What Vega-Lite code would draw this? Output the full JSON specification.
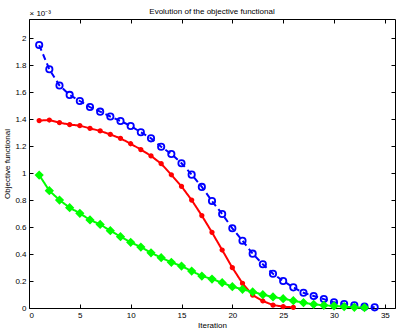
{
  "$schema": "https://vega.github.io/schema/vega-lite/v6.json",
  "width": 366,
  "height": 289,
  "autosize": {"type": "none"},
  "padding": {"left": 29, "top": 19, "right": 4, "bottom": 24},
  "background": "white",
  "title": {"text": "Evolution of the objective functional", "fontSize": 8, "fontWeight": "normal", "font": "Liberation Sans", "color": "black", "offset": -7},
  "config": {
    "view": {"stroke": null},
    "axis": {
      "domainColor": "black", "tickColor": "black", "tickSize": -4, "grid": false,
      "labelFont": "Liberation Sans", "labelFontSize": 8, "labelColor": "black",
      "titleFont": "Liberation Sans", "titleFontSize": 8, "titleFontWeight": "normal", "titleColor": "black",
      "labelPadding": 7
    }
  },
  "data": {"values": [
    {"series": "A", "iter": 1, "objective": 1.95}, {"series": "A", "iter": 2, "objective": 1.77}, {"series": "A", "iter": 3, "objective": 1.65}, {"series": "A", "iter": 4, "objective": 1.58}, {"series": "A", "iter": 5, "objective": 1.535}, {"series": "A", "iter": 6, "objective": 1.49}, {"series": "A", "iter": 7, "objective": 1.456}, {"series": "A", "iter": 8, "objective": 1.42}, {"series": "A", "iter": 9, "objective": 1.387}, {"series": "A", "iter": 10, "objective": 1.35}, {"series": "A", "iter": 11, "objective": 1.303}, {"series": "A", "iter": 12, "objective": 1.258}, {"series": "A", "iter": 13, "objective": 1.196}, {"series": "A", "iter": 14, "objective": 1.142}, {"series": "A", "iter": 15, "objective": 1.073}, {"series": "A", "iter": 16, "objective": 0.989}, {"series": "A", "iter": 17, "objective": 0.898}, {"series": "A", "iter": 18, "objective": 0.793}, {"series": "A", "iter": 19, "objective": 0.697}, {"series": "A", "iter": 20, "objective": 0.591}, {"series": "A", "iter": 21, "objective": 0.499}, {"series": "A", "iter": 22, "objective": 0.403}, {"series": "A", "iter": 23, "objective": 0.324}, {"series": "A", "iter": 24, "objective": 0.254}, {"series": "A", "iter": 25, "objective": 0.2}, {"series": "A", "iter": 26, "objective": 0.153}, {"series": "A", "iter": 27, "objective": 0.113}, {"series": "A", "iter": 28, "objective": 0.089}, {"series": "A", "iter": 29, "objective": 0.066}, {"series": "A", "iter": 30, "objective": 0.042}, {"series": "A", "iter": 31, "objective": 0.03}, {"series": "A", "iter": 32, "objective": 0.02}, {"series": "A", "iter": 33, "objective": 0.01}, {"series": "A", "iter": 34, "objective": 0.005},
    {"series": "B", "iter": 1, "objective": 1.39}, {"series": "B", "iter": 2, "objective": 1.394}, {"series": "B", "iter": 3, "objective": 1.374}, {"series": "B", "iter": 4, "objective": 1.36}, {"series": "B", "iter": 5, "objective": 1.352}, {"series": "B", "iter": 6, "objective": 1.332}, {"series": "B", "iter": 7, "objective": 1.313}, {"series": "B", "iter": 8, "objective": 1.287}, {"series": "B", "iter": 9, "objective": 1.258}, {"series": "B", "iter": 10, "objective": 1.218}, {"series": "B", "iter": 11, "objective": 1.175}, {"series": "B", "iter": 12, "objective": 1.128}, {"series": "B", "iter": 13, "objective": 1.07}, {"series": "B", "iter": 14, "objective": 0.988}, {"series": "B", "iter": 15, "objective": 0.902}, {"series": "B", "iter": 16, "objective": 0.8}, {"series": "B", "iter": 17, "objective": 0.685}, {"series": "B", "iter": 18, "objective": 0.561}, {"series": "B", "iter": 19, "objective": 0.43}, {"series": "B", "iter": 20, "objective": 0.299}, {"series": "B", "iter": 21, "objective": 0.183}, {"series": "B", "iter": 22, "objective": 0.096}, {"series": "B", "iter": 23, "objective": 0.052}, {"series": "B", "iter": 24, "objective": 0.022}, {"series": "B", "iter": 25, "objective": 0.01}, {"series": "B", "iter": 26, "objective": 0.005},
    {"series": "C", "iter": 1, "objective": 0.986}, {"series": "C", "iter": 2, "objective": 0.87}, {"series": "C", "iter": 3, "objective": 0.8}, {"series": "C", "iter": 4, "objective": 0.744}, {"series": "C", "iter": 5, "objective": 0.702}, {"series": "C", "iter": 6, "objective": 0.653}, {"series": "C", "iter": 7, "objective": 0.62}, {"series": "C", "iter": 8, "objective": 0.573}, {"series": "C", "iter": 9, "objective": 0.529}, {"series": "C", "iter": 10, "objective": 0.487}, {"series": "C", "iter": 11, "objective": 0.452}, {"series": "C", "iter": 12, "objective": 0.409}, {"series": "C", "iter": 13, "objective": 0.373}, {"series": "C", "iter": 14, "objective": 0.339}, {"series": "C", "iter": 15, "objective": 0.311}, {"series": "C", "iter": 16, "objective": 0.274}, {"series": "C", "iter": 17, "objective": 0.237}, {"series": "C", "iter": 18, "objective": 0.215}, {"series": "C", "iter": 19, "objective": 0.188}, {"series": "C", "iter": 20, "objective": 0.158}, {"series": "C", "iter": 21, "objective": 0.139}, {"series": "C", "iter": 22, "objective": 0.119}, {"series": "C", "iter": 23, "objective": 0.099}, {"series": "C", "iter": 24, "objective": 0.082}, {"series": "C", "iter": 25, "objective": 0.069}, {"series": "C", "iter": 26, "objective": 0.054}, {"series": "C", "iter": 27, "objective": 0.039}, {"series": "C", "iter": 28, "objective": 0.027}, {"series": "C", "iter": 29, "objective": 0.02}, {"series": "C", "iter": 30, "objective": 0.015}, {"series": "C", "iter": 31, "objective": 0.01}, {"series": "C", "iter": 32, "objective": 0.005}, {"series": "C", "iter": 33, "objective": 0.003}
  ]},
  "layer": [
    {
      "mark": {"type": "line", "strokeWidth": 2},
      "encoding": {
        "x": {"field": "iter", "type": "quantitative", "scale": {"domain": [0, 36], "nice": false},
              "axis": {"orient": "bottom", "values": [0, 5, 10, 15, 20, 25, 30, 35], "title": "Iteration", "titlePadding": 2}},
        "y": {"field": "objective", "type": "quantitative", "scale": {"domain": [0, 2.143], "nice": false},
              "axis": {"orient": "left", "values": [0, 0.2, 0.4, 0.6, 0.8, 1, 1.2, 1.4, 1.6, 1.8, 2], "format": "~g", "title": "Objective functional", "titlePadding": 3}},
        "color": {"field": "series", "type": "nominal", "scale": {"domain": ["A", "B", "C"], "range": ["#0000ff", "#ff0000", "#00ff00"]}, "legend": null},
        "strokeDash": {"field": "series", "type": "nominal", "scale": {"domain": ["A", "B", "C"], "range": [[6, 4], [1, 0], [1, 0]]}, "legend": null}
      }
    },
    {
      "mark": {"type": "point", "filled": true, "strokeWidth": 1.8, "opacity": 1},
      "encoding": {
        "x": {"field": "iter", "type": "quantitative",
              "axis": {"orient": "top", "values": [0, 5, 10, 15, 20, 25, 30, 35], "labels": false, "title": "× 10⁻³", "titleAngle": 0, "titleAnchor": "start", "titleAlign": "left", "titleX": 0, "titleY": -4, "titleBaseline": "alphabetic"}},
        "y": {"field": "objective", "type": "quantitative",
              "axis": {"orient": "right", "values": [0, 0.2, 0.4, 0.6, 0.8, 1, 1.2, 1.4, 1.6, 1.8, 2], "labels": false, "title": null}},
        "shape": {"field": "series", "type": "nominal", "scale": {"domain": ["A", "B", "C"], "range": ["circle", "circle", "diamond"]}, "legend": null},
        "fill": {"field": "series", "type": "nominal", "scale": {"domain": ["A", "B", "C"], "range": ["transparent", "#ff0000", "#00ff00"]}, "legend": null},
        "stroke": {"field": "series", "type": "nominal", "scale": {"domain": ["A", "B", "C"], "range": ["#0000ff", "#ff0000", "#00ff00"]}, "legend": null},
        "size": {"field": "series", "type": "nominal", "scale": {"type": "ordinal", "domain": ["A", "B", "C"], "range": [40, 12, 45]}, "legend": null}
      }
    }
  ],
  "resolve": {"axis": {"x": "independent", "y": "independent"}}
}
